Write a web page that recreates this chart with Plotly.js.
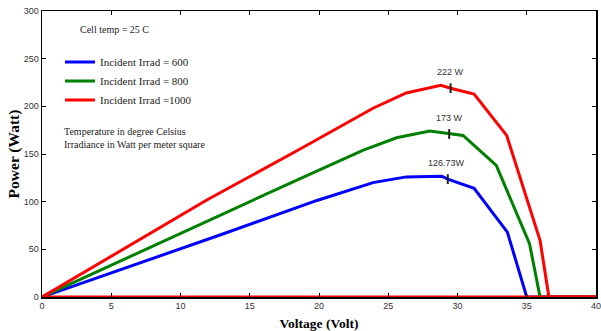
<!DOCTYPE html>
<html>
<head>
<meta charset="utf-8">
<script src="https://cdn.plot.ly/plotly-3.0.1.min.js"></script>
<style>html,body{margin:0;padding:0;background:#fff;}#chart{width:601px;height:331px;}</style>
</head>
<body>
<div id="chart"></div>
<script>
// Data
const v600 = [0, 12.85, 19.8, 23.9, 26.3, 28.86, 29.3, 31.2, 33.6, 35.0, 40];
const p600 = [0, 65, 101, 120, 126, 126.7, 123.6, 114, 68, 0, 0];
const v800 = [0, 12.85, 18.6, 23.2, 25.6, 28.0, 29.4, 30.4, 32.8, 35.2, 35.96, 40];
const p800 = [0, 86, 124, 154, 167, 174, 171, 169.5, 138, 56, 0, 0];
const v1000 = [0, 11.9, 18.6, 23.9, 26.3, 28.8, 29.5, 31.2, 33.55, 35.96, 36.6, 40];
const p1000 = [0, 101.7, 155, 198, 214, 222, 219, 212.8, 169.5, 59.4, 0, 0];
const baseV = [0, 40];
const baseP = [0, 0];
const seriesNames = ['Incident Irrad = 600', 'Incident Irrad = 800', 'Incident Irrad =1000'];
const peakV = [29.3, 29.4, 29.5];
const peakP = [123.6, 171, 219];
const peakLabels = ['126.73W', '173 W', '222 W'];
const xTicks = [0, 5, 10, 15, 20, 25, 30, 35, 40];
const yTicks = [0, 50, 100, 150, 200, 250, 300];

const colors = ['#0000FF', '#008000', '#FF0000'];
const serif = 'Liberation Serif, Times New Roman, serif';
const narrow = 'Liberation Sans Narrow, Arial Narrow, Liberation Sans, sans-serif';

const vs = [v600, v800, v1000];
const ps = [p600, p800, p1000];
const traces = vs.map((v, i) => ({
  x: v, y: ps[i], type: 'scatter', mode: 'lines', name: seriesNames[i],
  line: {color: colors[i], width: 3}
}));
traces.push({x: baseV, y: baseP, type: 'scatter', mode: 'lines', showlegend: false,
  line: {color: '#FF0000', width: 3}, hoverinfo: 'skip'});
traces.push({x: peakV, y: peakP, type: 'scatter', mode: 'markers', showlegend: false,
  marker: {symbol: 'line-ns-open', size: 7, color: '#222', line: {width: 2, color: '#222'}}});

const annotations = peakV.map((v, i) => ({
  x: v, y: peakP[i], xref: 'x', yref: 'y', text: peakLabels[i], showarrow: false,
  yshift: 16, xshift: i === 0 ? -1 : 0, font: {family: narrow, size: 9, color: '#333'}
}));
annotations.push({xref: 'paper', yref: 'paper', x: 0.13, y: 0.937, yanchor: 'middle', text: 'Cell temp = 25 C',
  showarrow: false, xanchor: 'center', font: {family: serif, size: 10, color: '#222'}});
annotations.push({xref: 'paper', yref: 'paper', x: 0.037, y: 0.556, xanchor: 'left', yanchor: 'middle', align: 'left',
  text: 'Temperature in degree Celsius<br>Irradiance in Watt per meter square', showarrow: false,
  font: {family: serif, size: 10, color: '#222'}});

const layout = {
  width: 601, height: 331,
  margin: {l: 42, r: 5, t: 11, b: 34},
  paper_bgcolor: '#fff', plot_bgcolor: '#fff',
  showlegend: true,
  legend: {x: 0.0325, y: 0.872, xanchor: 'left', yanchor: 'top', bgcolor: 'rgba(0,0,0,0)',
    font: {family: serif, size: 11, color: '#222'}, itemwidth: 30, tracegroupgap: 0},
  xaxis: {range: [0, 40], tickvals: xTicks, ticks: 'inside', ticklen: 4, tickcolor: '#000',
    showline: true, linecolor: '#000', linewidth: 1.5, mirror: 'ticks', showgrid: false, zeroline: false,
    ticklabeloverflow: 'allow',
    tickfont: {family: narrow, size: 9, color: '#333'},
    title: {text: '<b>Voltage (Volt)</b>', font: {family: serif, size: 13.5, color: '#000'}, standoff: 8}},
  yaxis: {range: [0, 300], tickvals: yTicks, ticks: 'inside', ticklen: 4, tickcolor: '#000',
    showline: true, linecolor: '#000', linewidth: 1.5, mirror: 'ticks', showgrid: false, zeroline: false,
    ticklabeloverflow: 'allow',
    tickfont: {family: narrow, size: 9, color: '#333'},
    title: {text: '<b>Power (Watt)</b>', font: {family: serif, size: 15.5, color: '#000'}, standoff: 0}},
  annotations: annotations
};
Plotly.newPlot('chart', traces, layout, {displayModeBar: false, staticPlot: true});
</script>
</body>
</html>
